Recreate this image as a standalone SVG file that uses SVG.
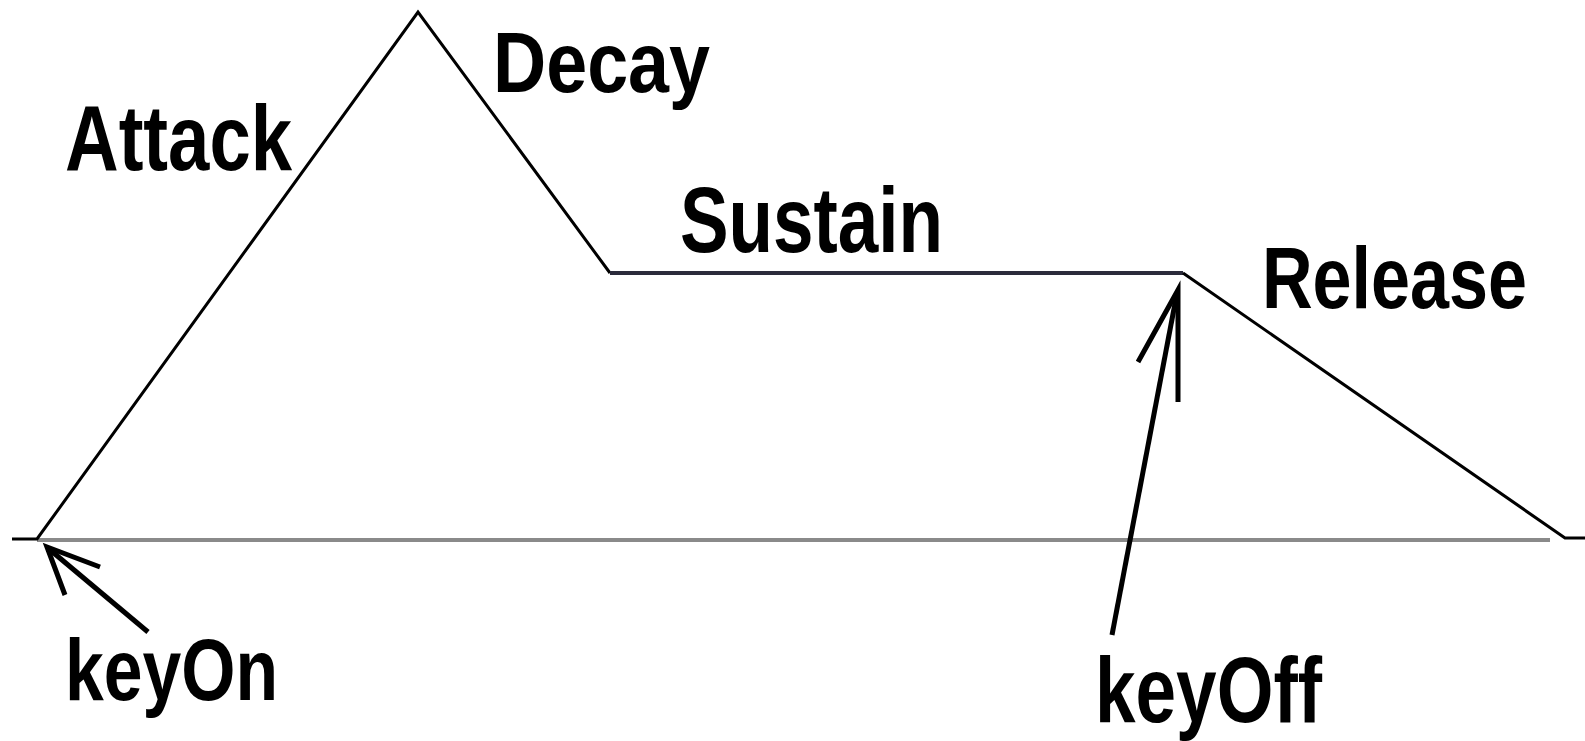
<svg xmlns="http://www.w3.org/2000/svg" width="1585" height="741" viewBox="0 0 1585 741">
<style>
.lbl{font-family:"Liberation Sans",Arial,sans-serif;font-weight:bold;fill:#000}
.env{fill:none;stroke:#000;stroke-width:3;stroke-linejoin:miter}
.arr{fill:none;stroke:#000;stroke-width:5;stroke-linecap:butt;stroke-linejoin:miter}
</style>
<rect width="1585" height="741" fill="#fff"/>
<g id="axis">
<line x1="37" y1="540" x2="1550" y2="540" stroke="#8a8a8a" stroke-width="4"/>
</g>
<g id="connectors">
<polyline class="env" points="12,539 37,539 418,12 610,273"/>
<line x1="610" y1="273" x2="1183" y2="273" stroke="#2b2b3b" stroke-width="4"/>
<polyline class="env" points="1183,273 1565,538 1585,538"/>
<g id="keyOn-arrow">
<line class="arr" x1="148" y1="632" x2="49" y2="549"/>
<polyline class="arr" points="100,567 47,547 65,595"/>
</g>
<g id="keyOff-arrow">
<line class="arr" x1="1112" y1="635" x2="1177" y2="293"/>
<polyline class="arr" points="1138,362 1178,290 1178,402"/>
</g>
</g>
<g id="attack"><text class="lbl" x="65" y="170" font-size="92" textLength="227" lengthAdjust="spacingAndGlyphs">Attack</text></g>
<g id="decay"><text class="lbl" x="493" y="92" font-size="86" textLength="217" lengthAdjust="spacingAndGlyphs">Decay</text></g>
<g id="sustain"><text class="lbl" x="680" y="252" font-size="93" textLength="263" lengthAdjust="spacingAndGlyphs">Sustain</text></g>
<g id="release"><text class="lbl" x="1262" y="308" font-size="88" textLength="265" lengthAdjust="spacingAndGlyphs">Release</text></g>
<g id="keyOn"><text class="lbl" x="65" y="700" font-size="88" textLength="213" lengthAdjust="spacingAndGlyphs">keyOn</text></g>
<g id="keyOff"><text class="lbl" x="1095" y="722" font-size="93" textLength="227" lengthAdjust="spacingAndGlyphs">keyOff</text></g>
</svg>
